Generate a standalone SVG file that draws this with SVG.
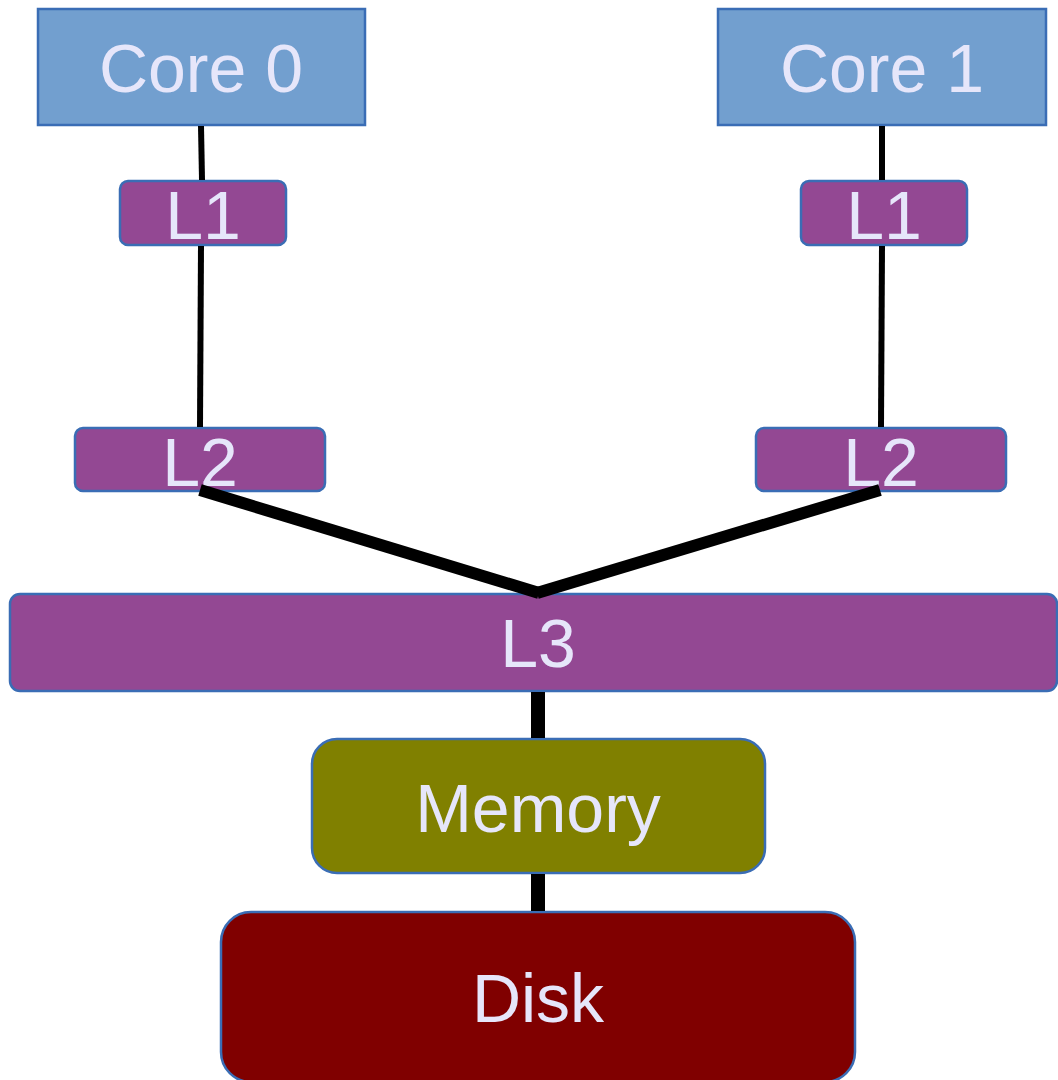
<svg xmlns="http://www.w3.org/2000/svg" width="1058" height="1080" viewBox="0 0 1058 1080">
<style>
.box{stroke:#3A6DB5;stroke-width:2.5}
.core{fill:#729FCF}
.cache{fill:#934893}
.mem{fill:#808000}
.disk{fill:#800000}
.lbl{font-family:"Liberation Sans",Arial,sans-serif;font-size:68px;fill:#E6E6FA;text-anchor:middle}
.thin{stroke:#000;stroke-width:6;fill:none}
.thick{stroke:#000;stroke-width:12;fill:none}
</style>
<rect width="1058" height="1080" fill="#fff"/>
<g id="core0"><rect class="box core" x="38" y="9" width="327" height="116"/><text class="lbl" x="201" y="92">Core 0</text></g>
<g id="core1"><rect class="box core" x="718" y="9" width="328" height="116"/><text class="lbl" x="882" y="92">Core 1</text></g>
<g id="l1-0"><rect class="box cache" x="120" y="181" width="166" height="64" rx="8"/><text class="lbl" x="203" y="239">L1</text></g>
<g id="l1-1"><rect class="box cache" x="801" y="181" width="166" height="64" rx="8"/><text class="lbl" x="884" y="239">L1</text></g>
<g id="l2-0"><rect class="box cache" x="75" y="428" width="250" height="63" rx="8"/><text class="lbl" x="200" y="486">L2</text></g>
<g id="l2-1"><rect class="box cache" x="756" y="428" width="250" height="63" rx="8"/><text class="lbl" x="881" y="486">L2</text></g>
<g id="l3"><rect class="box cache" x="10" y="594" width="1047" height="97" rx="10"/><text class="lbl" x="538" y="667">L3</text></g>
<g id="memory"><rect class="box mem" x="312" y="739" width="453" height="134" rx="25"/><text class="lbl" x="538" y="832">Memory</text></g>
<g id="disk"><rect class="box disk" x="221" y="912" width="634" height="170" rx="30"/><text class="lbl" x="538" y="1022">Disk</text></g>
<g id="connectors">
<line class="thin" x1="201" y1="126" x2="202" y2="180"/>
<line class="thin" x1="201" y1="246" x2="200" y2="427"/>
<line class="thin" x1="882" y1="126" x2="882" y2="180"/>
<line class="thin" x1="882" y1="246" x2="881" y2="427"/>
<line class="thick" x1="200" y1="490" x2="539" y2="593"/>
<line class="thick" x1="880" y1="490" x2="537" y2="593"/>
<line class="thick" x1="538" y1="692" x2="538" y2="738" style="stroke-width:14"/>
<line class="thick" x1="538" y1="874" x2="538" y2="911" style="stroke-width:14"/>
</g>
</svg>
